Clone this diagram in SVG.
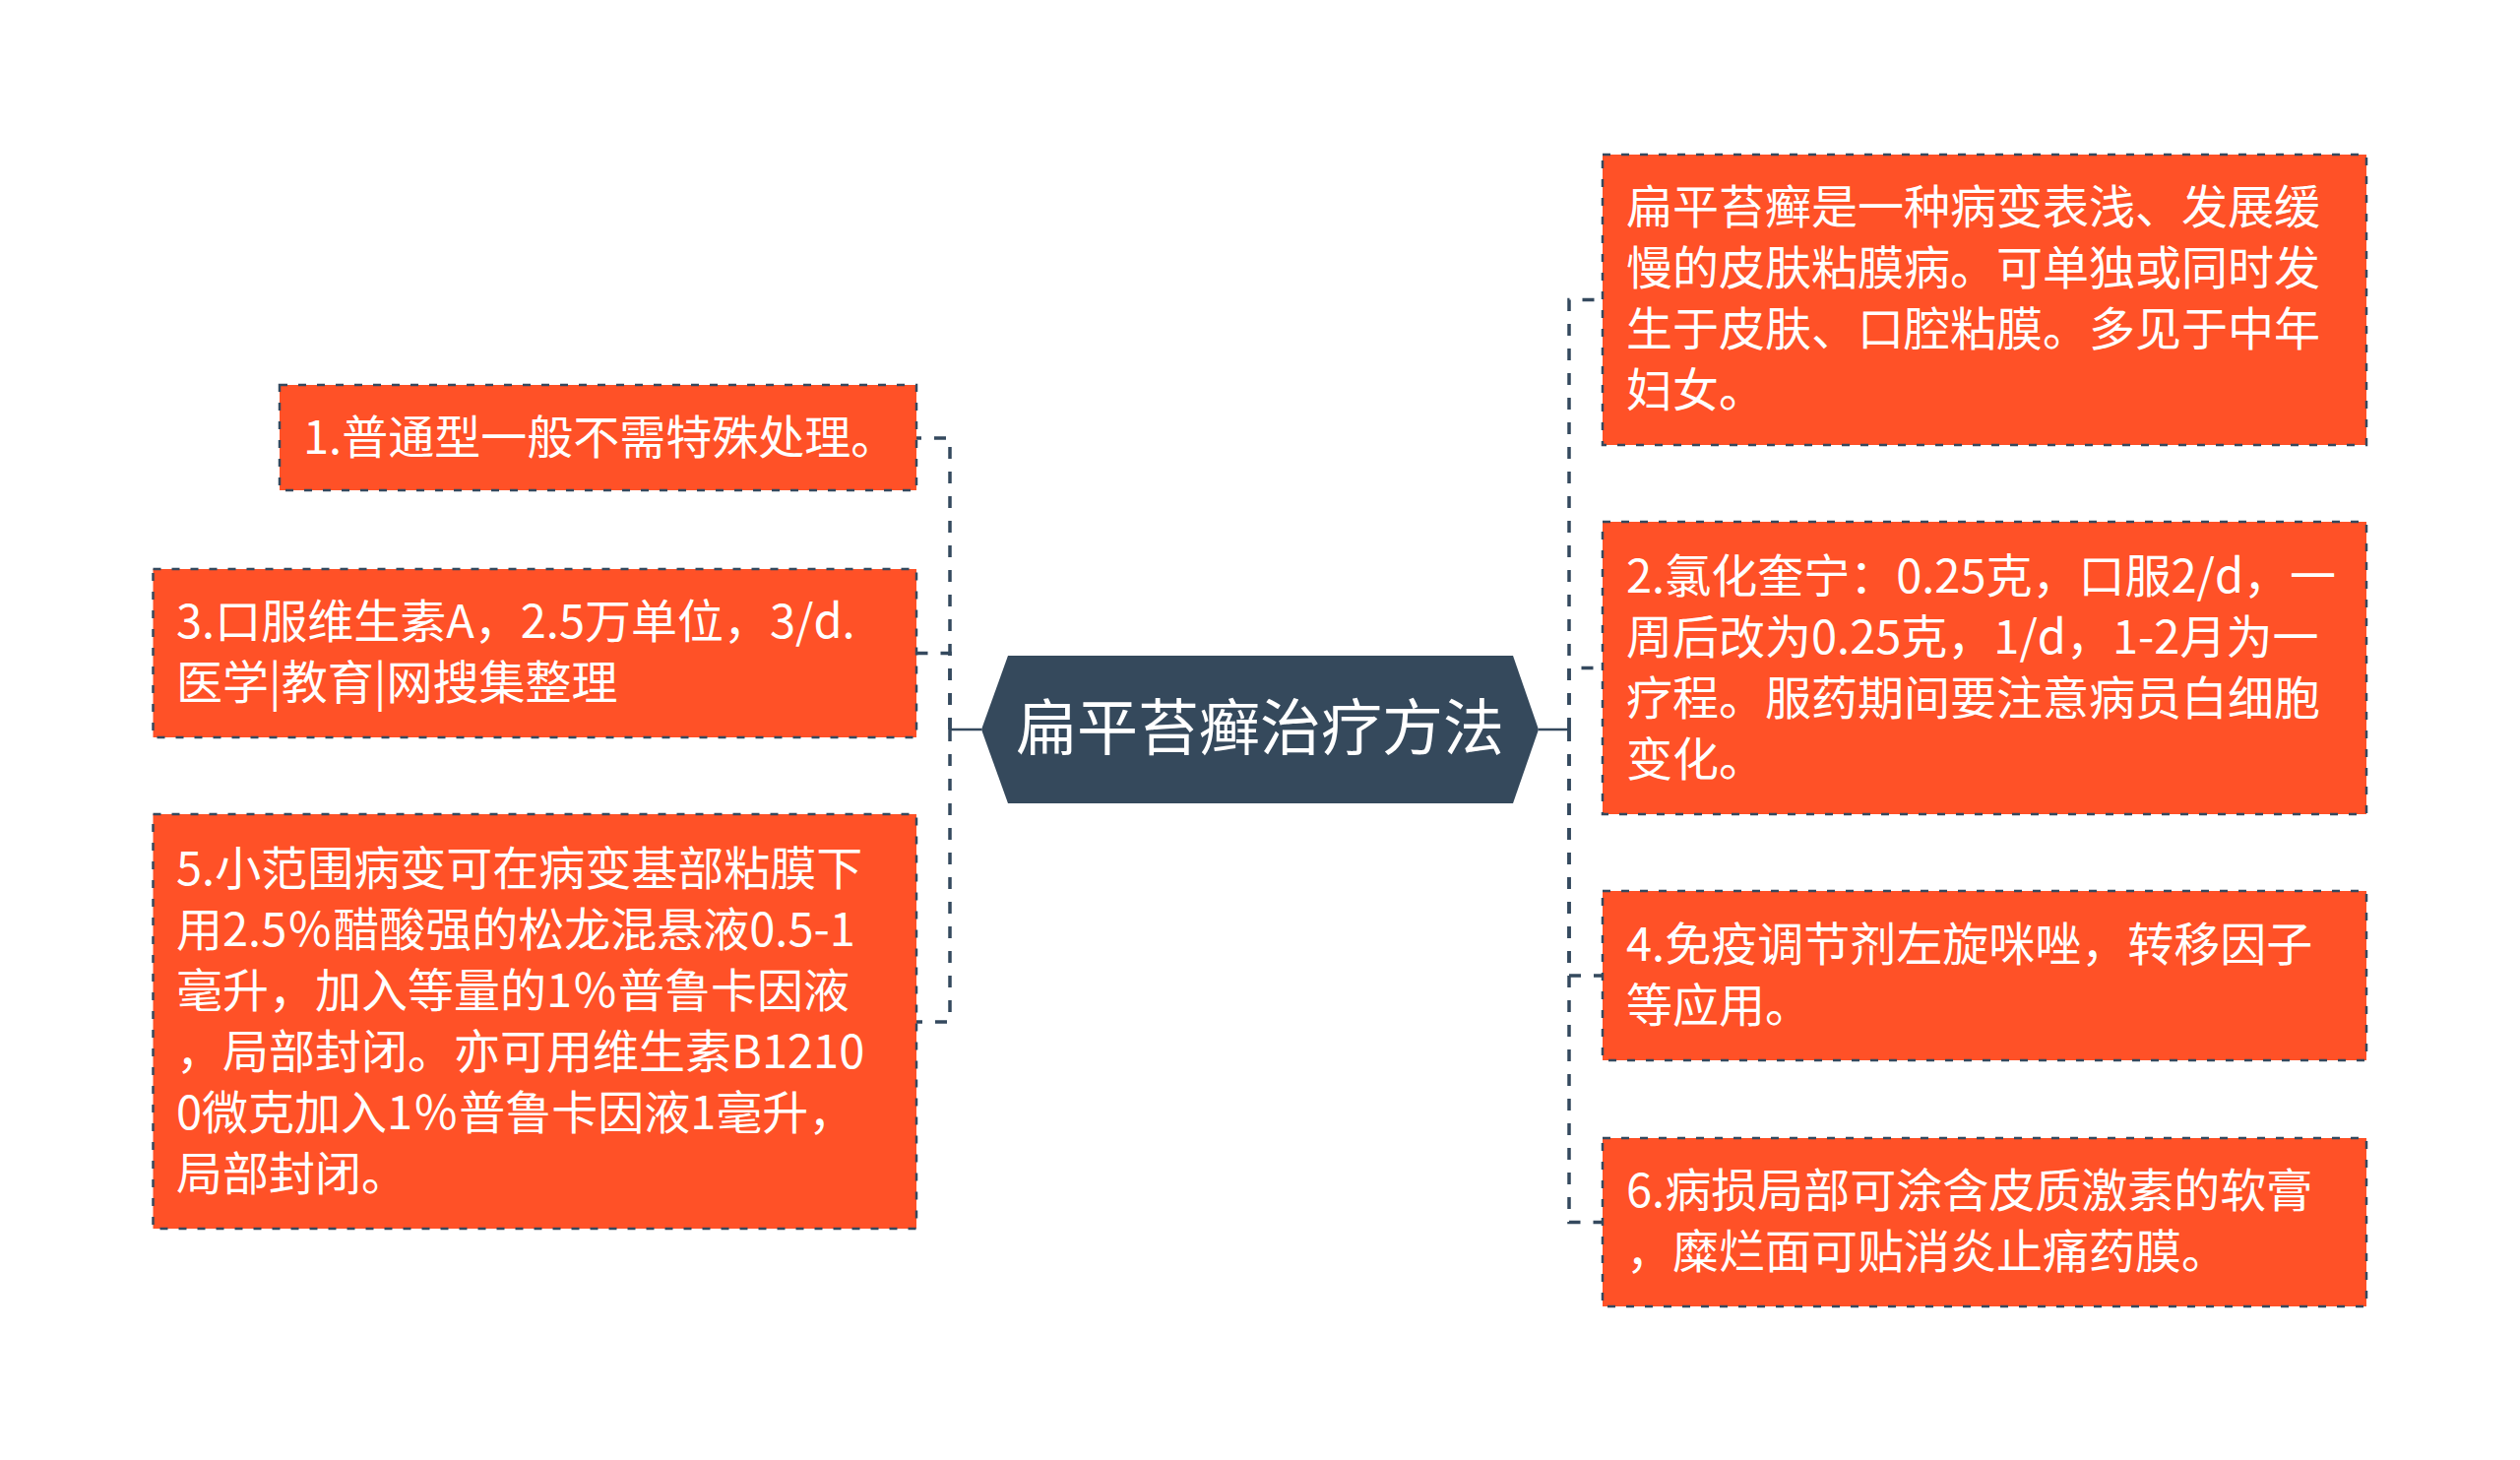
<svg xmlns="http://www.w3.org/2000/svg" width="2560" height="1483" viewBox="0 0 2560 1483">
<style>
.box{fill:#ff5127;stroke:#34495e;stroke-width:2.5;stroke-dasharray:8 11}
.t{font-family:"Noto Sans CJK SC","Noto Sans",sans-serif;font-size:47px;fill:#ffffff}
.ct{font-family:"Noto Sans CJK SC","Noto Sans",sans-serif;font-size:62px;fill:#ffffff;text-anchor:middle}
.dash{fill:none;stroke:#34495e;stroke-width:3.5;stroke-dasharray:12 13}
.solid{fill:none;stroke:#34495e;stroke-width:2.5}
</style>
<rect width="2560" height="1483" fill="#ffffff"/>
<g id="connectors">
<path class="solid" d="M997 741H965"/>
<path class="dash" d="M965 741V445H931"/>
<path class="dash" d="M965 741V663.5H931"/>
<path class="dash" d="M965 741V1038H931"/>
<path class="solid" d="M1563 741H1594"/>
<path class="dash" d="M1594 741V304.5H1628"/>
<path class="dash" d="M1594 741V678.5H1628"/>
<path class="dash" d="M1594 741V991H1628"/>
<path class="dash" d="M1594 741V1241.5H1628"/>
</g>
<g id="center">
<polygon points="997,741 1024,666 1537,666 1563,741 1537,816 1024,816" fill="#35495c"/>
<text class="ct" x="1280" y="762">扁平苔癣治疗方法</text>
</g>
<g id="node1">
<rect class="box" x="284" y="391" width="647" height="107"/>
<text class="t" x="308" y="461">1.普通型一般不需特殊处理。</text>
</g>
<g id="node3">
<rect class="box" x="155.5" y="578" width="775.5" height="171"/>
<text class="t" x="179" y="648">3.口服维生素A，2.5万单位，3/d.</text>
<text class="t" x="179" y="710">医学|教育|网搜集整理</text>
</g>
<g id="node5">
<rect class="box" x="155.5" y="827" width="775.5" height="421"/>
<text class="t" x="179" y="899">5.小范围病变可在病变基部粘膜下</text>
<text class="t" x="179" y="961">用2.5％醋酸强的松龙混悬液0.5-1</text>
<text class="t" x="179" y="1023">毫升，加入等量的1％普鲁卡因液</text>
<text class="t" x="179" y="1085">，局部封闭。亦可用维生素B1210</text>
<text class="t" x="179" y="1147">0微克加入1％普鲁卡因液1毫升，</text>
<text class="t" x="179" y="1209">局部封闭。</text>
</g>
<g id="nodeA">
<rect class="box" x="1628" y="157" width="776" height="295"/>
<text class="t" x="1652" y="227">扁平苔癣是一种病变表浅、发展缓</text>
<text class="t" x="1652" y="289">慢的皮肤粘膜病。可单独或同时发</text>
<text class="t" x="1652" y="351">生于皮肤、口腔粘膜。多见于中年</text>
<text class="t" x="1652" y="413">妇女。</text>
</g>
<g id="node2">
<rect class="box" x="1628" y="530" width="776" height="297"/>
<text class="t" x="1652" y="602">2.氯化奎宁：0.25克，口服2/d，一</text>
<text class="t" x="1652" y="664">周后改为0.25克，1/d，1-2月为一</text>
<text class="t" x="1652" y="726">疗程。服药期间要注意病员白细胞</text>
<text class="t" x="1652" y="788">变化。</text>
</g>
<g id="node4">
<rect class="box" x="1628" y="905" width="776" height="172"/>
<text class="t" x="1652" y="976">4.免疫调节剂左旋咪唑，转移因子</text>
<text class="t" x="1652" y="1038">等应用。</text>
</g>
<g id="node6">
<rect class="box" x="1628" y="1156" width="776" height="171"/>
<text class="t" x="1652" y="1226">6.病损局部可涂含皮质激素的软膏</text>
<text class="t" x="1652" y="1288">，糜烂面可贴消炎止痛药膜。</text>
</g>
</svg>
